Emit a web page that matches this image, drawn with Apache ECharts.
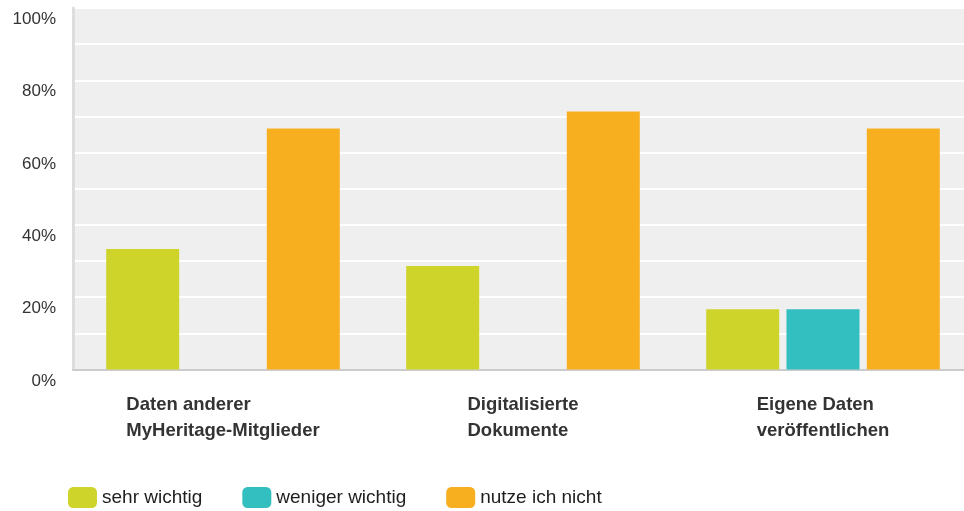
<!DOCTYPE html>
<html>
<head>
<meta charset="utf-8">
<script src="https://cdn.jsdelivr.net/npm/echarts@6/dist/echarts.min.js"></script>
<style>
  html, body { margin: 0; padding: 0; background: #ffffff; }
  #chart { width: 964px; height: 511px; }
</style>
</head>
<body>
<div id="chart"></div>
<script>
// Categories (two-line labels) and the share of answers per rating
const categories = [
  'Daten anderer\nMyHeritage-Mitglieder',
  'Digitalisierte\nDokumente',
  'Eigene Daten\nveröffentlichen'
];
const seriesNames = ['sehr wichtig', 'weniger wichtig', 'nutze ich nicht'];
const sehrWichtig = [33.3, 28.6, 16.7];
const wenigerWichtig = [null, null, 16.7];
const nutzeIchNicht = [66.7, 71.4, 66.7];
const colors = ['#cfd42a', '#33bec0', '#f7af20'];

const chart = echarts.init(document.getElementById('chart'), null, { renderer: 'canvas' });

const bar = (name, data, color) => ({
  name: name,
  type: 'bar',
  data: data,
  barWidth: 73,
  barGap: '10%',
  itemStyle: { color: color },
  emphasis: { disabled: true }
});

chart.setOption({
  animation: false,
  backgroundColor: '#ffffff',
  textStyle: { fontFamily: 'Liberation Sans, Arial, sans-serif' },
  grid: {
    show: true,
    backgroundColor: '#efefef',
    borderWidth: 0,
    left: 73,
    top: 8,
    width: 900,
    height: 361.5,
    outerBoundsMode: 'none',
    containLabel: false
  },
  legend: {
    left: 68,
    top: 487,
    padding: 0,
    itemWidth: 29,
    itemHeight: 21,
    itemGap: 40,
    icon: 'roundRect',
    selectedMode: false,
    textStyle: { fontSize: 19, color: '#1e1e1e', padding: [0, 0, 0, 0] },
    data: seriesNames
  },
  xAxis: {
    type: 'category',
    data: categories,
    axisLine: { show: true, lineStyle: { color: '#cccccc', width: 2 } },
    axisTick: { show: false },
    axisLabel: {
      margin: 22,
      align: 'center',
      formatter: function (v) {
        return v.split('\n').map(function (l) { return '{l|' + l + '}'; }).join('\n');
      },
      rich: {
        l: {
          align: 'left',
          fontSize: 18.5,
          fontWeight: 'bold',
          color: '#333333',
          lineHeight: 26,
          fontFamily: 'Liberation Sans, Arial, sans-serif'
        }
      }
    }
  },
  yAxis: {
    type: 'value',
    min: 0,
    max: 100,
    interval: 10,
    axisLine: { show: true, lineStyle: { color: '#dddddd', width: 3 } },
    axisTick: { show: false },
    splitLine: { show: true, lineStyle: { color: '#ffffff', width: 2 } },
    axisLabel: {
      margin: 17,
      fontSize: 17,
      color: '#333333',
      verticalAlign: 'top',
      padding: [3, 0, 0, 0],
      formatter: function (v) { return v % 20 === 0 ? v + '%' : ''; }
    }
  },
  series: [
    bar(seriesNames[0], sehrWichtig, colors[0]),
    bar(seriesNames[1], wenigerWichtig, colors[1]),
    bar(seriesNames[2], nutzeIchNicht, colors[2])
  ]
});
</script>
</body>
</html>
